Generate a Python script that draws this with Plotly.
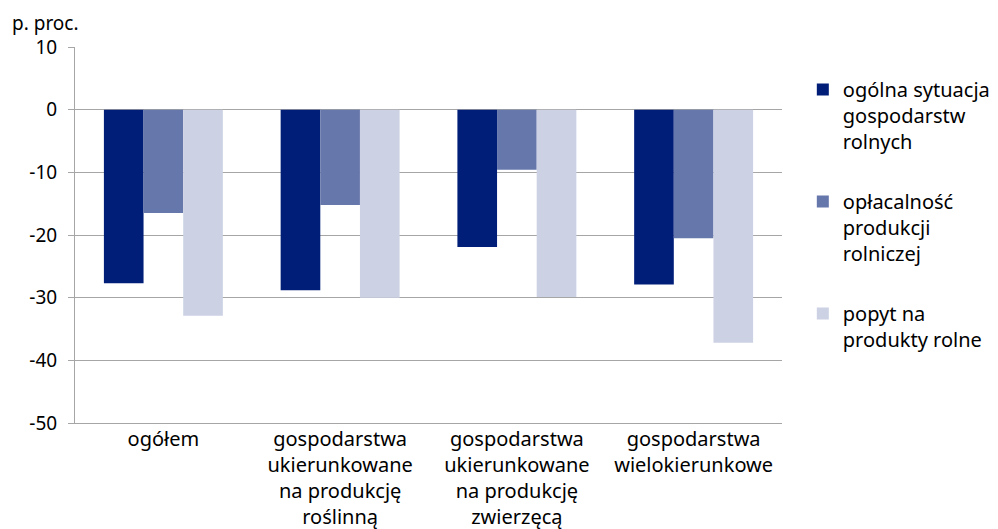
import plotly.graph_objects as go

categories = [
    "ogółem",
    "gospodarstwa<br>ukierunkowane<br>na produkcję<br>roślinną",
    "gospodarstwa<br>ukierunkowane<br>na produkcję<br>zwierzęcą",
    "gospodarstwa<br>wielokierunkowe",
]
series_names = [
    "ogólna sytuacja<br>gospodarstw<br>rolnych",
    "opłacalność<br>produkcji<br>rolniczej",
    "popyt na<br>produkty rolne",
]
ogolna = [-27.7, -28.8, -21.9, -27.9]
oplacalnosc = [-16.5, -15.2, -9.6, -20.5]
popyt = [-32.9, -30.0, -29.9, -37.2]
y_ticks = [10, 0, -10, -20, -30, -40, -50]
colors = ["#001e78", "#6677ab", "#ccd2e4"]

FONT = "Noto Sans"
fig = go.Figure()
for i, (name, vals) in enumerate(zip(series_names, [ogolna, oplacalnosc, popyt])):
    fig.add_trace(go.Bar(
        x=categories, y=vals, name=name, marker_color=colors[i],
        marker_line_width=0, legendgroup=f"g{i}",
    ))

fig.update_layout(
    width=998, height=529,
    margin=dict(l=67, r=223, t=39, b=114),
    paper_bgcolor="white", plot_bgcolor="white",
    barmode="group", bargap=0.327, bargroupgap=0,
    font=dict(family=FONT, size=18, color="#000000"),
    legend=dict(
        x=1.028, xanchor="left", y=0.939, yanchor="top",
        font=dict(size=20), valign="top", tracegroupgap=31,
        itemwidth=30, traceorder="grouped",
    ),
    showlegend=True,
)
fig.update_yaxes(
    range=[-50, 10], tickvals=y_ticks, ticktext=[str(v) for v in y_ticks],
    showgrid=True, gridcolor="#a6a6a6", automargin=False,
    gridwidth=1, showline=True, linecolor="#a6a6a6", ticks="outside",
    ticklen=6, tickcolor="#a6a6a6", zeroline=False, ticklabelstandoff=7,
    tickfont=dict(size=19),
)
fig.update_xaxes(
    showline=True, linecolor="#a6a6a6", ticks="", showgrid=False,
    automargin=False, tickfont=dict(size=20), ticklabelstandoff=-2,
)
fig.add_annotation(
    text="p. proc.", xref="paper", yref="paper", x=0, y=1, xshift=-65, yshift=9,
    xanchor="left", yanchor="bottom", showarrow=False, font=dict(size=19),
)
fig.write_html("out.html")
